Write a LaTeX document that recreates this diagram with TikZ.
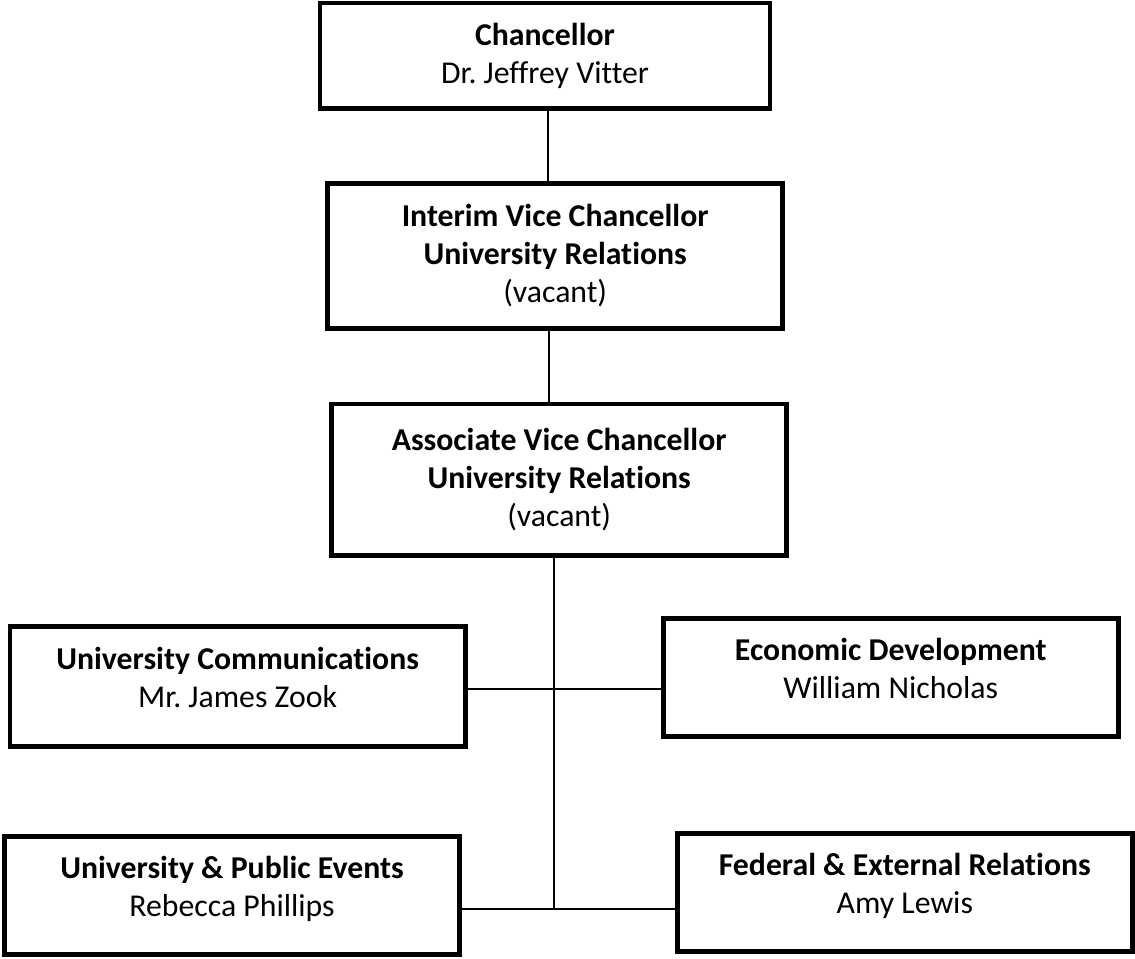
\documentclass[tikz,border=0pt]{standalone}
\usepackage{fontspec}
\setmainfont{Carlito}[Ligatures=NoCommon]
\frenchspacing

\begin{document}
\begin{tikzpicture}[
    box/.style={rectangle, draw, line width=3.5pt, minimum width=11.38cm, align=center, font=\fontsize{22.6}{27}\selectfont},
    office/.style={box, minimum height=3.7cm},
    unit/.style={box, minimum height=2.95cm, execute at end node={\rule[-13pt]{0pt}{0pt}}},
    link/.style={line width=1.4pt}
]
\useasboundingbox (0,0) rectangle (28.375,-23.95);

% Chancellor and vice chancellors
\node[box, minimum width=11.25cm, minimum height=2.63cm] (chanc) at (13.625,-1.39) {\textbf{Chancellor}\\Dr. Jeffrey Vitter};
\node[office, minimum height=3.61cm] (ivc) at (13.88,-6.40) {\textbf{Interim Vice Chancellor}\\\textbf{University Relations}\\(vacant)};
\node[office, minimum height=3.78cm] (avc) at (13.98,-11.99) {\textbf{Associate Vice Chancellor}\\\textbf{University Relations}\\(vacant)};

% Units
\node[unit, minimum height=2.99cm] (comm) at (5.94,-17.16) {\textbf{University Communications}\\Mr. James Zook};
\node[unit] (econ) at (22.27,-16.93) {\textbf{Economic Development}\\William Nicholas};
\node[unit] (events) at (5.80,-22.39) {\textbf{University \& Public Events}\\Rebecca Phillips};
\node[unit] (federal) at (22.62,-22.31) {\textbf{Federal \& External Relations}\\Amy Lewis};

% Connectors
\coordinate (topx) at (13.70,0);
\coordinate (midx) at (13.725,0);
\coordinate (upper) at (13.86,-17.225);
\coordinate (lower) at (13.86,-22.725);

\draw[link] (chanc.south -| topx) -- (ivc.north -| topx);
\draw[link] (ivc.south -| midx) -- (avc.north -| midx);
\draw[link] (avc.south -| upper) -- (lower);
\draw[link] (upper -| comm.east) -- (upper -| econ.west);
\draw[link] (lower -| events.east) -- (lower -| federal.west);

\end{tikzpicture}
\end{document}
